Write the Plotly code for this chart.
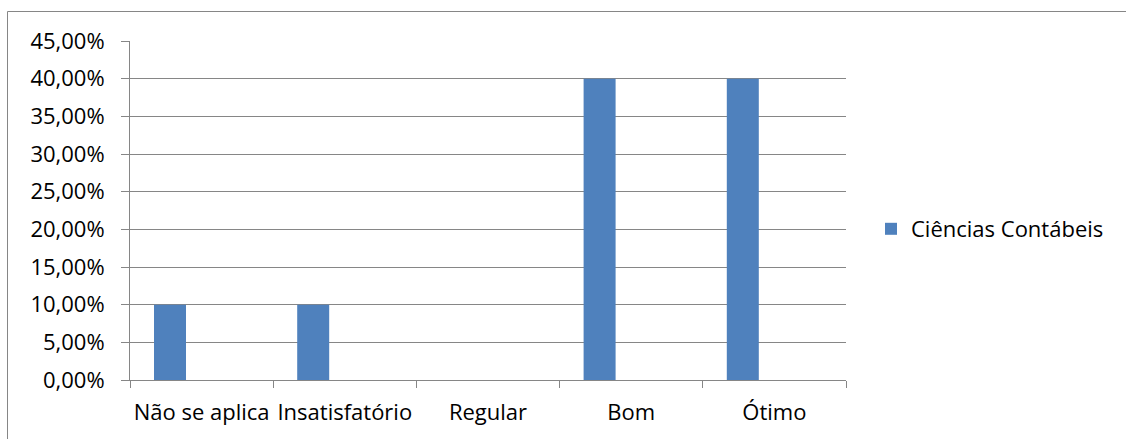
import plotly.graph_objects as go

categories = ["Não se aplica", "Insatisfatório", "Regular", "Bom", "Ótimo"]
values = [0.10, 0.10, 0.0, 0.40, 0.40]
series_name = "Ciências Contábeis"
y_ticks = [0.0, 0.05, 0.10, 0.15, 0.20, 0.25, 0.30, 0.35, 0.40, 0.45]

FONT = "Open Sans"
FS = 22
W, H = 1126, 439
L, R, T, B = 130, 280, 41, 59
pw, ph = W - L - R, H - T - B

fig = go.Figure()
fig.add_trace(go.Bar(
    x=categories, y=values, name=series_name,
    marker=dict(color="#4F81BD", line=dict(width=0)),
    offset=-0.5 + 24 / 143.2, width=32 / 143.2,
))

def px_x(x):
    return (x - L) / pw

def px_y(y):
    return 1 - (y - T) / ph

fig.update_layout(
    width=W, height=H,
    margin=dict(l=L, r=R, t=T, b=B, pad=0),
    paper_bgcolor="white", plot_bgcolor="white",
    separators=",.",
    font=dict(family=FONT, size=FS, color="#000000"),
    showlegend=True,
    legend=dict(x=px_x(871), y=px_y(229), xanchor="left", yanchor="middle",
                font=dict(family=FONT, size=FS, color="#000000"),
                bgcolor="rgba(0,0,0,0)", itemwidth=30),
    xaxis=dict(
        type="category", showgrid=False, showline=True, linecolor="#868686", linewidth=1,
        ticks="outside", tickson="boundaries", ticklen=7, tickcolor="#868686",
        ticklabelstandoff=13,
        tickangle=0, tickfont=dict(family=FONT, size=FS, color="#000000"),
        range=[-0.5, 4.5], fixedrange=True,
    ),
    yaxis=dict(
        range=[0, 0.45], tickvals=y_ticks, tickformat=".2%",
        showgrid=True, gridcolor="#868686", gridwidth=1,
        showline=True, linecolor="#868686", linewidth=1,
        ticks="outside", ticklen=8, tickcolor="#868686",
        ticklabelstandoff=12,
        tickfont=dict(family=FONT, size=FS, color="#000000"),
        zeroline=False,
    ),
    shapes=[dict(type="rect", xref="paper", yref="paper",
                 x0=px_x(7.5), x1=px_x(1127), y0=px_y(441), y1=px_y(11.5),
                 line=dict(color="#868686", width=1), fillcolor="rgba(0,0,0,0)",
                 layer="below")],
)

fig.write_html("out.html", config={"displayModeBar": False, "staticPlot": True})

with open("out.html", "r", encoding="utf-8") as f:
    html = f.read()
html = html.replace("<head>", "<head><style>html,body{margin:0;padding:0;overflow:hidden;}</style>", 1)
with open("out.html", "w", encoding="utf-8") as f:
    f.write(html)
